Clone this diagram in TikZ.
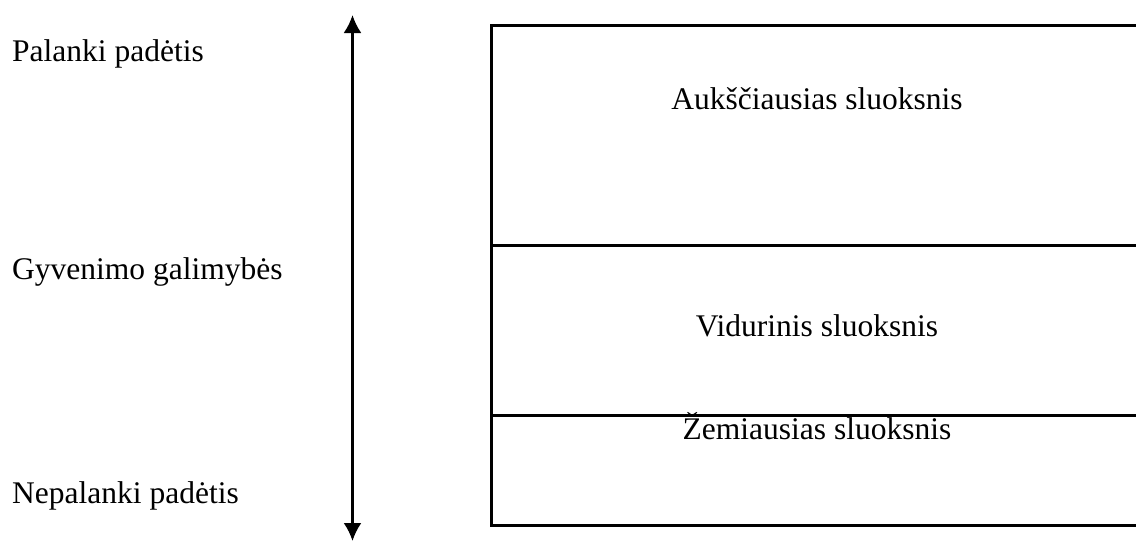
\documentclass[tikz,border=0pt]{standalone}
\usepackage{fontspec}
\setmainfont{Liberation Serif}
\usetikzlibrary{arrows.meta}
\tikzset{
  lbl/.style={inner sep=0pt, font=\fontsize{31.5}{38}\selectfont},
  band/.style={line width=3pt}
}
\begin{document}
\begin{tikzpicture}[x=1pt,y=-1pt]
\useasboundingbox (0,0) rectangle (1136,541);
\clip (0,0) rectangle (1136,541);

\coordinate (top) at (352.5,15);
\coordinate (bot) at (352.5,541);
\draw [line width=2.5pt, {Latex[length=18pt,width=18pt]}-{Latex[length=18pt,width=18pt]}] (top) -- (bot);

\node[lbl, anchor=base west] (pal) at (12,61) {Palanki padėtis};
\node[lbl, anchor=base west] (gyv) at (12,279) {Gyvenimo galimybės};
\node[lbl, anchor=base west] (nep) at (12,503) {Nepalanki padėtis};

\draw [band] (1150,25) -- (491,25) -- (491,525) -- (1150,525);
\draw [band] (491,245) -- (1150,245);
\draw [band] (491,415) -- (1150,415);

\node[lbl, anchor=base] (auk) at (817,109) {Aukščiausias sluoksnis};
\node[lbl, anchor=base] (vid) at (817,336) {Vidurinis sluoksnis};
\node[lbl, anchor=base] (zem) at (817,439) {Žemiausias sluoksnis};

\end{tikzpicture}
\end{document}
